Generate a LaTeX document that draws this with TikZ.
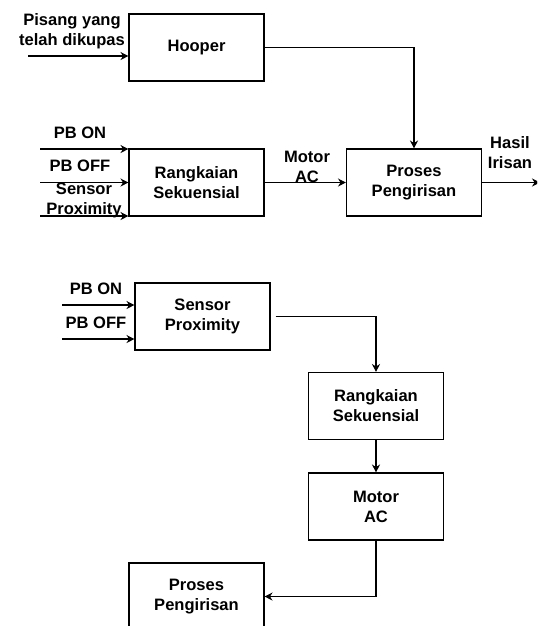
\documentclass[tikz,border=0pt]{standalone}
\usepackage{fontspec}
\setmainfont{Liberation Sans}
\usetikzlibrary{arrows.meta, positioning, calc}

\tikzset{
    blok/.style={draw, line width=0.8pt, minimum width=101.25pt, minimum height=50.25pt, inner sep=0pt, align=center, font=\fontsize{12.4}{15}\selectfont\bfseries},
    teks/.style={align=center, inner sep=0pt, font=\fontsize{12.4}{15}\selectfont\bfseries},
    panah/.style={line width=0.8pt, -{Stealth[length=6pt, width=6pt]}}
}

\begin{document}
\begin{tikzpicture}[x=0.75pt, y=-0.75pt]
    \useasboundingbox (0,0) rectangle (537,626);
    \clip (0,0) rectangle (537,626);

    % Diagram atas
    \node[blok] (hooper) at (196.5, 47.5) {Hooper};
    \node[blok] (rangkA) at (196.5, 182.5) {Rangkaian\\Sekuensial};
    \node[blok] (prosesA) at (414, 182.5) {Proses\\Pengirisan};

    \coordinate (pisang) at (28, 56);
    \coordinate (onA) at (40, 149);
    \coordinate (offA) at (40, 182.5);
    \coordinate (proxA) at (40, 216);
    \coordinate (hasil) at (540, 182.5);

    \node[teks] (lblPisang) at (72, 31) {Pisang yang\\telah dikupas};
    \node[teks] (lblOnA) at (80, 133) {PB ON};
    \node[teks] (lblOffA) at (80, 166) {PB OFF};
    \node[teks] (lblProxA) at (84, 200) {Sensor\\Proximity};
    \node[teks] (lblMotor) at (307, 167) {Motor\\AC};
    \node[teks] (lblHasil) at (510, 153) {Hasil\\Irisan};

    \draw[panah] (pisang) -- (pisang -| hooper.west);
    \draw[panah] (hooper.east) -| (prosesA.north);
    \draw[panah] (onA) -- (onA -| rangkA.west);
    \draw[panah] (offA) -- (rangkA.west);
    \draw[panah] (proxA) -- (proxA -| rangkA.west);
    \draw[panah] (rangkA.east) -- (prosesA.west);
    \draw[panah] (prosesA.east) -- (hasil);

    % Diagram bawah
    \node[blok] (sensorB) at (202.5, 316.5) {Sensor\\Proximity};
    \node[blok] (rangkB) at (376, 406) {Rangkaian\\Sekuensial};
    \node[blok] (motorB) at (376, 506.5) {Motor\\AC};
    \node[blok] (prosesB) at (196.5, 596.5) {Proses\\Pengirisan};

    \coordinate (onB) at (62, 305);
    \coordinate (offB) at (62, 339);
    \node[teks] (lblOnB) at (96, 289) {PB ON};
    \node[teks] (lblOffB) at (96, 323) {PB OFF};

    \draw[panah] (onB) -- (onB -| sensorB.west);
    \draw[panah] (offB) -- (offB -| sensorB.west);
    \draw[panah] ([xshift=3.75pt]sensorB.east) -| (rangkB.north);
    \draw[panah] (rangkB.south) -- (motorB.north);
    \draw[panah] (motorB.south) |- (prosesB.east);
\end{tikzpicture}
\end{document}
